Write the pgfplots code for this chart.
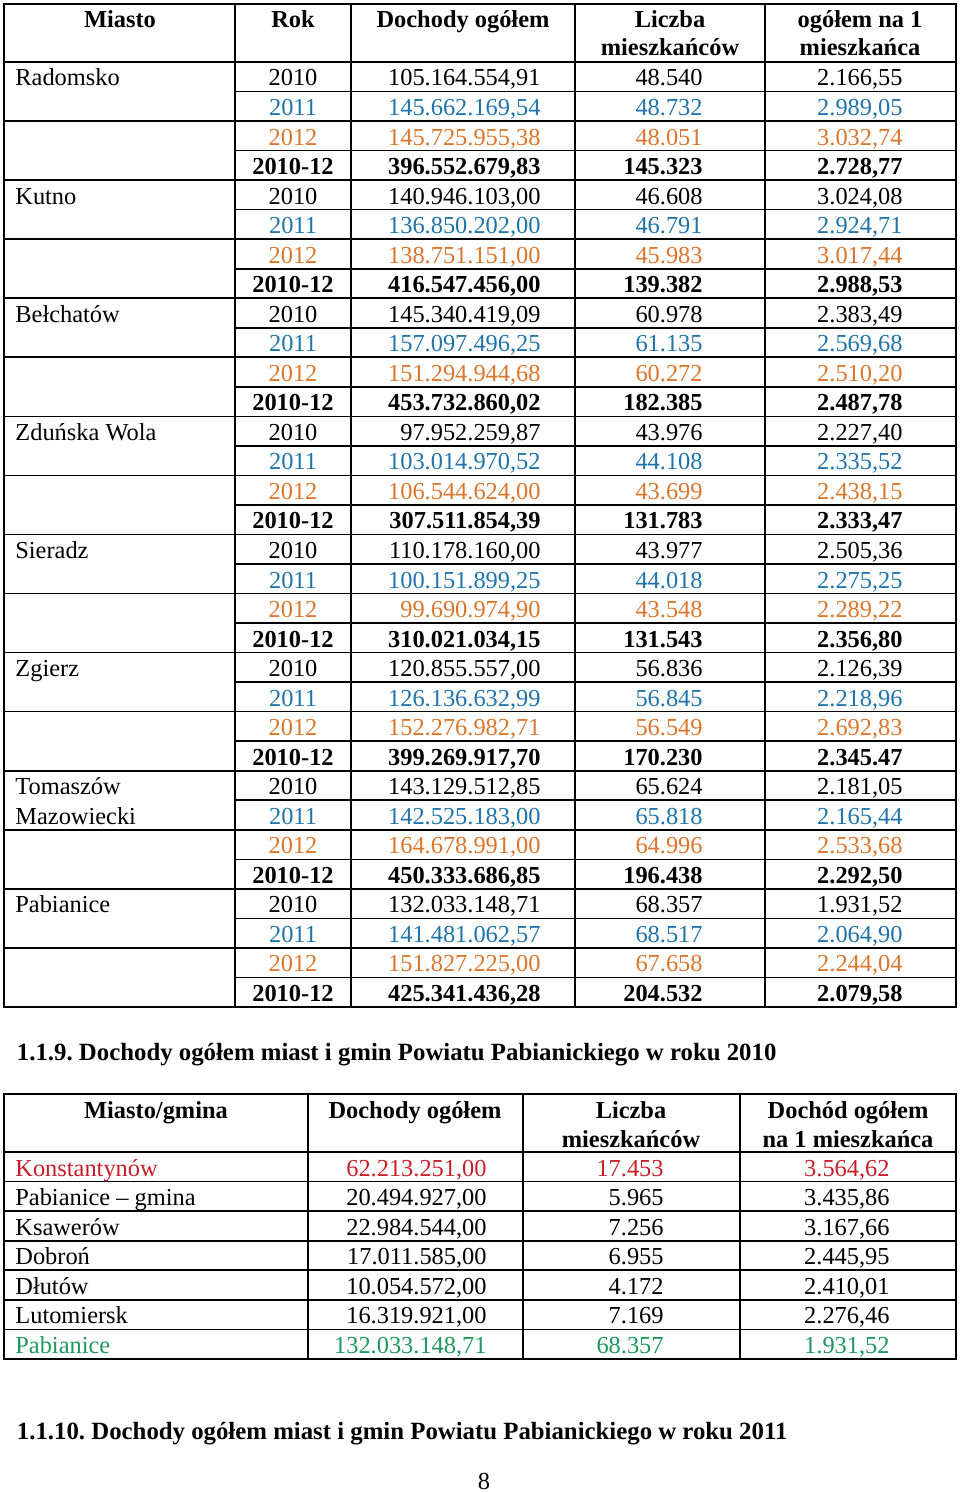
\documentclass[border=0pt]{standalone}
\usepackage{fontspec}
\setmainfont{Liberation Serif}
\usepackage{pgfplots}
\usepackage{pgfplotstable}
\pgfplotsset{compat=1.18}
\definecolor{cblue}{RGB}{32,116,172}
\definecolor{corange}{RGB}{220,118,44}
\definecolor{cred}{RGB}{200,30,42}
\definecolor{cgreen}{RGB}{30,152,92}
\newcommand{\tf}{\fontsize{12.2}{14}\selectfont\frenchspacing}
\newcommand{\tfb}{\fontsize{12.2}{14}\selectfont\bfseries\frenchspacing}
\newcommand{\tfbt}{\fontsize{12.4}{14}\selectfont\bfseries\frenchspacing}
\tikzset{tx/.style={inner sep=0pt, outer sep=0pt}}

% Table 1: Rok / Dochody ogolem / Liczba mieszkancow / na 1 mieszkanca
\pgfplotstableread[col sep=semicolon]{
r;rok;doch;licz;na
0;2010;105.164.554,91;48.540;2.166,55
4;2010;140.946.103,00;46.608;3.024,08
8;2010;145.340.419,09;60.978;2.383,49
12;2010;97.952.259,87;43.976;2.227,40
16;2010;110.178.160,00;43.977;2.505,36
20;2010;120.855.557,00;56.836;2.126,39
24;2010;143.129.512,85;65.624;2.181,05
28;2010;132.033.148,71;68.357;1.931,52
}\tA
\pgfplotstableread[col sep=semicolon]{
r;rok;doch;licz;na
1;2011;145.662.169,54;48.732;2.989,05
5;2011;136.850.202,00;46.791;2.924,71
9;2011;157.097.496,25;61.135;2.569,68
13;2011;103.014.970,52;44.108;2.335,52
17;2011;100.151.899,25;44.018;2.275,25
21;2011;126.136.632,99;56.845;2.218,96
25;2011;142.525.183,00;65.818;2.165,44
29;2011;141.481.062,57;68.517;2.064,90
}\tB
\pgfplotstableread[col sep=semicolon]{
r;rok;doch;licz;na
2;2012;145.725.955,38;48.051;3.032,74
6;2012;138.751.151,00;45.983;3.017,44
10;2012;151.294.944,68;60.272;2.510,20
14;2012;106.544.624,00;43.699;2.438,15
18;2012;99.690.974,90;43.548;2.289,22
22;2012;152.276.982,71;56.549;2.692,83
26;2012;164.678.991,00;64.996;2.533,68
30;2012;151.827.225,00;67.658;2.244,04
}\tC
\pgfplotstableread[col sep=semicolon]{
r;rok;doch;licz;na
3;2010-12;396.552.679,83;145.323;2.728,77
7;2010-12;416.547.456,00;139.382;2.988,53
11;2010-12;453.732.860,02;182.385;2.487,78
15;2010-12;307.511.854,39;131.783;2.333,47
19;2010-12;310.021.034,15;131.543;2.356,80
23;2010-12;399.269.917,70;170.230;2.345.47
27;2010-12;450.333.686,85;196.438;2.292,50
31;2010-12;425.341.436,28;204.532;2.079,58
}\tD
\pgfplotstableread[col sep=semicolon]{
r;name
0;Radomsko
4;Kutno
8;Bełchatów
12;Zduńska Wola
16;Sieradz
20;Zgierz
24;Tomaszów
25;Mazowiecki
28;Pabianice
}\tCity
% Table 2: 2010
\pgfplotstableread[col sep=semicolon]{
r;name;doch;licz;na
0;Konstantynów;62.213.251,00;17.453;3.564,62
}\tE
\pgfplotstableread[col sep=semicolon]{
r;name;doch;licz;na
1;Pabianice – gmina;20.494.927,00;5.965;3.435,86
2;Ksawerów;22.984.544,00;7.256;3.167,66
3;Dobroń;17.011.585,00;6.955;2.445,95
4;Dłutów;10.054.572,00;4.172;2.410,01
5;Lutomiersk;16.319.921,00;7.169;2.276,46
}\tF
\pgfplotstableread[col sep=semicolon]{
r;name;doch;licz;na
6;Pabianice;132.033.148,71;68.357;1.931,52
}\tG

% #1 table, #2 column, #3 x, #4 anchor, #5 node style, #6 first baseline, #7 row step
\newcommand{\col}[7]{%
  \addplot[only marks, mark=*, mark size=0pt,
    mark options={draw=none, fill=none},
    point meta=explicit symbolic,
    nodes near coords={\pgfplotspointmeta},
    every node near coord/.append style={anchor=#4, inner sep=0pt, opacity=1, text opacity=1, #5}]
    table[x expr=#3, y expr={#6+#7*\thisrow{r}}, meta=#2] {#1};
}

\begin{document}
\begin{tikzpicture}
\begin{axis}[
  x=0.5pt, y=0.5pt,
  xmin=0, xmax=960, ymin=0, ymax=1492,
  y dir=reverse,
  hide axis, clip=false,
]
\path[draw=none] (axis cs:0,0) rectangle (axis cs:960,1492);

% ---------- Table 1 grid ----------
\draw[line width=0.8pt] (axis cs:4,4) rectangle (axis cs:956,1007);
\draw[line width=0.8pt] (axis cs:235,4) -- (axis cs:235,1007);
\draw[line width=0.8pt] (axis cs:351,4) -- (axis cs:351,1007);
\draw[line width=0.8pt] (axis cs:575,4) -- (axis cs:575,1007);
\draw[line width=0.8pt] (axis cs:765,4) -- (axis cs:765,1007);
\draw[line width=0.8pt] (axis cs:4,62) -- (axis cs:956,62);
\pgfplotsinvokeforeach{1,3,...,31}{
  \draw[line width=0.8pt] (axis cs:235,{62+29.53*#1}) -- (axis cs:956,{62+29.53*#1});
}
\pgfplotsinvokeforeach{2,4,...,30}{
  \draw[line width=0.8pt] (axis cs:4,{62+29.53*#1}) -- (axis cs:956,{62+29.53*#1});
}

% ---------- Table 1 header ----------
\node[tx, font=\tfb, anchor=base] at (axis cs:120,28) {Miasto};
\node[tx, font=\tfb, anchor=base] at (axis cs:293,28) {Rok};
\node[tx, font=\tfb, anchor=base] at (axis cs:463,28) {Dochody ogółem};
\node[tx, font=\tfb, anchor=base] at (axis cs:670,28) {Liczba};
\node[tx, font=\tfb, anchor=base] at (axis cs:670,56) {mieszkańców};
\node[tx, font=\tfb, anchor=base] at (axis cs:860,28) {ogółem na 1};
\node[tx, font=\tfb, anchor=base] at (axis cs:860,56) {mieszkańca};

% ---------- Table 1 body ----------
\col{\tCity}{name}{15}{base west}{font=\tf, text=black}{86}{29.53}
\col{\tA}{rok}{293}{base}{font=\tf, text=black}{86}{29.53}
\col{\tA}{doch}{541}{base east}{font=\tf, text=black}{86}{29.53}
\col{\tA}{licz}{703}{base east}{font=\tf, text=black}{86}{29.53}
\col{\tA}{na}{903}{base east}{font=\tf, text=black}{86}{29.53}
\col{\tB}{rok}{293}{base}{font=\tf, text=cblue}{86}{29.53}
\col{\tB}{doch}{541}{base east}{font=\tf, text=cblue}{86}{29.53}
\col{\tB}{licz}{703}{base east}{font=\tf, text=cblue}{86}{29.53}
\col{\tB}{na}{903}{base east}{font=\tf, text=cblue}{86}{29.53}
\col{\tC}{rok}{293}{base}{font=\tf, text=corange}{86}{29.53}
\col{\tC}{doch}{541}{base east}{font=\tf, text=corange}{86}{29.53}
\col{\tC}{licz}{703}{base east}{font=\tf, text=corange}{86}{29.53}
\col{\tC}{na}{903}{base east}{font=\tf, text=corange}{86}{29.53}
\col{\tD}{rok}{293}{base}{font=\tfb, text=black}{86}{29.53}
\col{\tD}{doch}{541}{base east}{font=\tfb, text=black}{86}{29.53}
\col{\tD}{licz}{703}{base east}{font=\tfb, text=black}{86}{29.53}
\col{\tD}{na}{903}{base east}{font=\tfb, text=black}{86}{29.53}

% ---------- Title 1 ----------
\node[tx, font=\tfbt, anchor=base west] at (axis cs:17,1060) {1.1.9. Dochody ogółem miast i gmin Powiatu Pabianickiego w roku 2010};

% ---------- Table 2 grid ----------
\draw[line width=0.8pt] (axis cs:4,1094) rectangle (axis cs:956,1359);
\draw[line width=0.8pt] (axis cs:308,1094) -- (axis cs:308,1359);
\draw[line width=0.8pt] (axis cs:523,1094) -- (axis cs:523,1359);
\draw[line width=0.8pt] (axis cs:740,1094) -- (axis cs:740,1359);
\draw[line width=0.8pt] (axis cs:4,1152) -- (axis cs:956,1152);
\pgfplotsinvokeforeach{1,...,6}{
  \draw[line width=0.8pt] (axis cs:4,{1152+29.57*#1}) -- (axis cs:956,{1152+29.57*#1});
}

% ---------- Table 2 header ----------
\node[tx, font=\tfb, anchor=base] at (axis cs:156,1118) {Miasto/gmina};
\node[tx, font=\tfb, anchor=base] at (axis cs:415,1118) {Dochody ogółem};
\node[tx, font=\tfb, anchor=base] at (axis cs:631,1118) {Liczba};
\node[tx, font=\tfb, anchor=base] at (axis cs:631,1147) {mieszkańców};
\node[tx, font=\tfb, anchor=base] at (axis cs:848,1118) {Dochód ogółem};
\node[tx, font=\tfb, anchor=base] at (axis cs:848,1147) {na 1 mieszkańca};

% ---------- Table 2 body ----------
\col{\tE}{name}{15}{base west}{font=\tf, text=cred}{1176}{29.57}
\col{\tE}{doch}{487}{base east}{font=\tf, text=cred}{1176}{29.57}
\col{\tE}{licz}{664}{base east}{font=\tf, text=cred}{1176}{29.57}
\col{\tE}{na}{890}{base east}{font=\tf, text=cred}{1176}{29.57}
\col{\tF}{name}{15}{base west}{font=\tf, text=black}{1176}{29.57}
\col{\tF}{doch}{487}{base east}{font=\tf, text=black}{1176}{29.57}
\col{\tF}{licz}{664}{base east}{font=\tf, text=black}{1176}{29.57}
\col{\tF}{na}{890}{base east}{font=\tf, text=black}{1176}{29.57}
\col{\tG}{name}{15}{base west}{font=\tf, text=cgreen}{1176}{29.57}
\col{\tG}{doch}{487}{base east}{font=\tf, text=cgreen}{1176}{29.57}
\col{\tG}{licz}{664}{base east}{font=\tf, text=cgreen}{1176}{29.57}
\col{\tG}{na}{890}{base east}{font=\tf, text=cgreen}{1176}{29.57}

% ---------- Title 2 and page number ----------
\node[tx, font=\tfbt, anchor=base west] at (axis cs:17,1439) {1.1.10. Dochody ogółem miast i gmin Powiatu Pabianickiego w roku 2011};
\node[tx, font=\tf, anchor=base] at (axis cs:484,1489) {8};
\end{axis}
\end{tikzpicture}
\end{document}
